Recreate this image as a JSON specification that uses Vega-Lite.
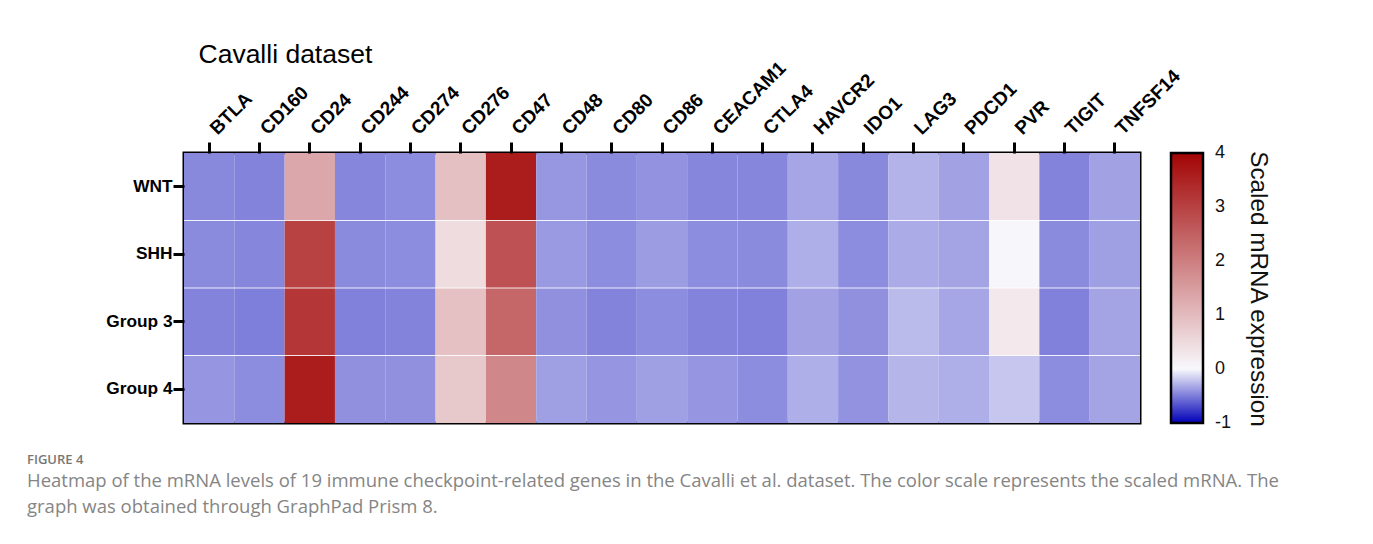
{
  "$schema": "https://vega.github.io/schema/vega-lite/v6.json",
  "autosize": {"type": "none"},
  "width": 956,
  "height": 270,
  "padding": {"left": 184, "top": 153, "right": 233, "bottom": 121},
  "background": "white",
  "title": {
    "text": "FIGURE 4",
    "subtitle": [
      "Heatmap of the mRNA levels of 19 immune checkpoint-related genes in the Cavalli et al. dataset. The color scale represents the scaled mRNA. The",
      "graph was obtained through GraphPad Prism 8."
    ],
    "orient": "bottom",
    "anchor": "start",
    "frame": "group",
    "dx": -157,
    "offset": 22,
    "font": "Open Sans",
    "fontSize": 13,
    "fontWeight": 600,
    "color": "#777777",
    "subtitleFont": "Open Sans",
    "subtitleFontSize": 18.5,
    "subtitleColor": "#858585",
    "subtitlePadding": 5,
    "subtitleLineHeight": 26
  },
  "data": {
    "values": [
      {"group": "WNT", "gene": "BTLA", "value": -0.45},
      {"group": "WNT", "gene": "CD160", "value": -0.47},
      {"group": "WNT", "gene": "CD24", "value": 1.33},
      {"group": "WNT", "gene": "CD244", "value": -0.46},
      {"group": "WNT", "gene": "CD274", "value": -0.43},
      {"group": "WNT", "gene": "CD276", "value": 0.92},
      {"group": "WNT", "gene": "CD47", "value": 3.6},
      {"group": "WNT", "gene": "CD48", "value": -0.39},
      {"group": "WNT", "gene": "CD80", "value": -0.44},
      {"group": "WNT", "gene": "CD86", "value": -0.41},
      {"group": "WNT", "gene": "CEACAM1", "value": -0.46},
      {"group": "WNT", "gene": "CTLA4", "value": -0.46},
      {"group": "WNT", "gene": "HAVCR2", "value": -0.33},
      {"group": "WNT", "gene": "IDO1", "value": -0.45},
      {"group": "WNT", "gene": "LAG3", "value": -0.28},
      {"group": "WNT", "gene": "PDCD1", "value": -0.35},
      {"group": "WNT", "gene": "PVR", "value": 0.36},
      {"group": "WNT", "gene": "TIGIT", "value": -0.47},
      {"group": "WNT", "gene": "TNFSF14", "value": -0.35},
      {"group": "SHH", "gene": "BTLA", "value": -0.44},
      {"group": "SHH", "gene": "CD160", "value": -0.46},
      {"group": "SHH", "gene": "CD24", "value": 3.0},
      {"group": "SHH", "gene": "CD244", "value": -0.44},
      {"group": "SHH", "gene": "CD274", "value": -0.43},
      {"group": "SHH", "gene": "CD276", "value": 0.46},
      {"group": "SHH", "gene": "CD47", "value": 2.73},
      {"group": "SHH", "gene": "CD48", "value": -0.38},
      {"group": "SHH", "gene": "CD80", "value": -0.43},
      {"group": "SHH", "gene": "CD86", "value": -0.37},
      {"group": "SHH", "gene": "CEACAM1", "value": -0.43},
      {"group": "SHH", "gene": "CTLA4", "value": -0.44},
      {"group": "SHH", "gene": "HAVCR2", "value": -0.3},
      {"group": "SHH", "gene": "IDO1", "value": -0.43},
      {"group": "SHH", "gene": "LAG3", "value": -0.31},
      {"group": "SHH", "gene": "PDCD1", "value": -0.34},
      {"group": "SHH", "gene": "PVR", "value": -0.01},
      {"group": "SHH", "gene": "TIGIT", "value": -0.44},
      {"group": "SHH", "gene": "TNFSF14", "value": -0.36},
      {"group": "Group 3", "gene": "BTLA", "value": -0.47},
      {"group": "Group 3", "gene": "CD160", "value": -0.49},
      {"group": "Group 3", "gene": "CD24", "value": 3.18},
      {"group": "Group 3", "gene": "CD244", "value": -0.48},
      {"group": "Group 3", "gene": "CD274", "value": -0.47},
      {"group": "Group 3", "gene": "CD276", "value": 0.9},
      {"group": "Group 3", "gene": "CD47", "value": 2.37},
      {"group": "Group 3", "gene": "CD48", "value": -0.42},
      {"group": "Group 3", "gene": "CD80", "value": -0.47},
      {"group": "Group 3", "gene": "CD86", "value": -0.43},
      {"group": "Group 3", "gene": "CEACAM1", "value": -0.47},
      {"group": "Group 3", "gene": "CTLA4", "value": -0.48},
      {"group": "Group 3", "gene": "HAVCR2", "value": -0.35},
      {"group": "Group 3", "gene": "IDO1", "value": -0.42},
      {"group": "Group 3", "gene": "LAG3", "value": -0.25},
      {"group": "Group 3", "gene": "PDCD1", "value": -0.33},
      {"group": "Group 3", "gene": "PVR", "value": 0.24},
      {"group": "Group 3", "gene": "TIGIT", "value": -0.48},
      {"group": "Group 3", "gene": "TNFSF14", "value": -0.34},
      {"group": "Group 4", "gene": "BTLA", "value": -0.4},
      {"group": "Group 4", "gene": "CD160", "value": -0.43},
      {"group": "Group 4", "gene": "CD24", "value": 3.6},
      {"group": "Group 4", "gene": "CD244", "value": -0.42},
      {"group": "Group 4", "gene": "CD274", "value": -0.42},
      {"group": "Group 4", "gene": "CD276", "value": 0.77},
      {"group": "Group 4", "gene": "CD47", "value": 1.85},
      {"group": "Group 4", "gene": "CD48", "value": -0.36},
      {"group": "Group 4", "gene": "CD80", "value": -0.4},
      {"group": "Group 4", "gene": "CD86", "value": -0.36},
      {"group": "Group 4", "gene": "CEACAM1", "value": -0.4},
      {"group": "Group 4", "gene": "CTLA4", "value": -0.43},
      {"group": "Group 4", "gene": "HAVCR2", "value": -0.3},
      {"group": "Group 4", "gene": "IDO1", "value": -0.41},
      {"group": "Group 4", "gene": "LAG3", "value": -0.27},
      {"group": "Group 4", "gene": "PDCD1", "value": -0.3},
      {"group": "Group 4", "gene": "PVR", "value": -0.2},
      {"group": "Group 4", "gene": "TIGIT", "value": -0.43},
      {"group": "Group 4", "gene": "TNFSF14", "value": -0.34}
    ]
  },
  "encoding": {
    "y": {
      "field": "group",
      "type": "nominal",
      "sort": null,
      "scale": {"paddingInner": 0, "paddingOuter": 0},
      "axis": {
        "title": null,
        "orient": "left",
        "domain": false,
        "labelFont": "Liberation Sans",
        "labelFontSize": 17.3,
        "labelFontWeight": "bold",
        "labelColor": "#000000",
        "labelPadding": 1,
        "tickSize": 11,
        "tickWidth": 3,
        "tickColor": "#000000",
        "grid": false
      }
    }
  },
  "layer": [
    {
      "mark": {"type": "rect"},
      "encoding": {
        "x": {
          "field": "gene",
          "type": "nominal",
          "sort": null,
          "scale": {"paddingInner": 0, "paddingOuter": 0},
          "axis": {
            "orient": "top",
            "title": "Cavalli dataset",
            "titleFont": "Liberation Sans",
            "titleFontSize": 26.5,
            "titleFontWeight": "normal",
            "titleColor": "#000000",
            "titleAnchor": "start",
            "titleAlign": "left",
            "titleBaseline": "alphabetic",
            "titleX": 14,
            "titleY": -91,
            "domain": false,
            "labelAngle": -45,
            "labelAlign": "left",
            "labelBaseline": "middle",
            "labelFont": "Liberation Sans",
            "labelFontSize": 19,
            "labelFontWeight": "bold",
            "labelColor": "#000000",
            "labelPadding": 11,
            "labelOffset": 4,
            "tickSize": 11,
            "tickWidth": 3,
            "tickColor": "#000000",
            "grid": false
          }
        },
        "color": {
          "field": "value",
          "type": "quantitative",
          "scale": {
            "domain": [-1, 0, 4],
            "range": ["#0000b8", "#f8f8fc", "#a20404"],
            "interpolate": "rgb"
          },
          "legend": {
            "title": "Scaled mRNA expression",
            "orient": "right",
            "offset": 31,
            "padding": 0,
            "direction": "vertical",
            "gradientLength": 270,
            "gradientThickness": 32,
            "gradientStrokeColor": "#000000",
            "gradientStrokeWidth": 2.5,
            "values": [-1, 0, 1, 2, 3, 4],
            "labelExpr": "replace(datum.label, '\u2212', '-')",
            "labelOverlap": false,
            "labelFont": "Liberation Sans",
            "labelFontSize": 18,
            "labelColor": "#111111",
            "labelBaseline": "middle",
            "labelOffset": 12,
            "titleOrient": "right",
            "titleFont": "Liberation Sans",
            "titleFontSize": 24.3,
            "titleFontWeight": "normal",
            "titleColor": "#111111",
            "titlePadding": 15,
            "titleAnchor": "middle",
            "titleLimit": 600,
            "encode": {
              "labels": {"update": {"baseline": {"value": "middle"}}}
            }
          }
        }
      }
    },
    {
      "transform": [
        {"filter": "datum.gene === 'BTLA' && datum.group !== 'WNT'"}
      ],
      "mark": {"type": "rule", "color": "#ffffff", "strokeWidth": 1.2, "opacity": 0.85},
      "encoding": {
        "y": {"field": "group", "type": "nominal", "sort": null, "bandPosition": 0}
      }
    }
  ],
  "config": {
    "view": {"stroke": "#000000", "strokeWidth": 3},
    "font": "Liberation Sans"
  }
}
